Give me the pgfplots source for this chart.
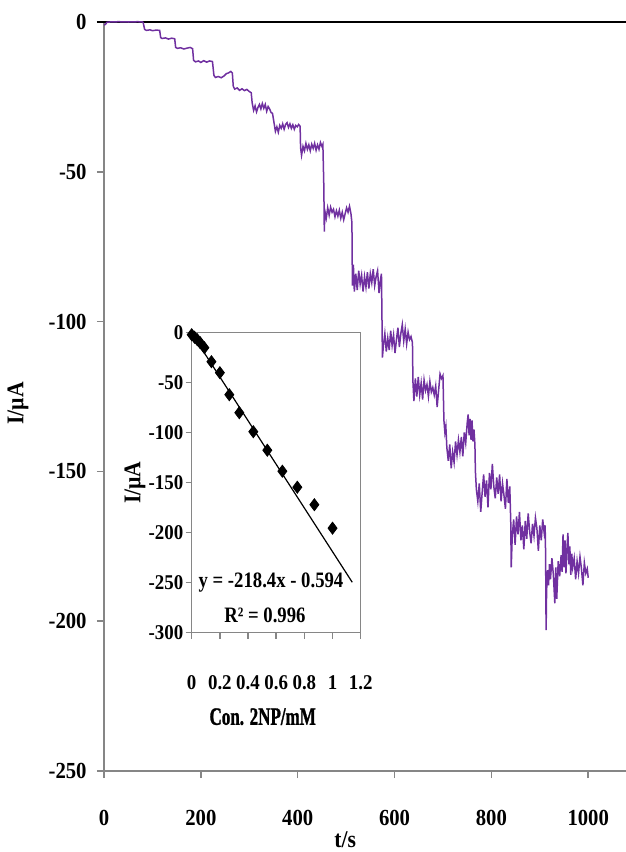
\documentclass[border=0pt]{standalone}
\usepackage{fontspec}
\setmainfont{Liberation Serif}[FakeStretch=0.9]
\newfontfamily\eqfont{Liberation Serif Bold}[FakeStretch=0.85]
\newfontfamily\conlabel{Liberation Serif Bold}[FakeStretch=0.68, FakeBold=1.2]
\usepackage{pgfplots}
\usepackage{pgfplotstable}
\pgfplotsset{compat=1.18}

\definecolor{trace}{RGB}{112,48,160}
\definecolor{axisgray}{RGB}{134,134,134}

% amperometric response, t in s, I in microampere
\pgfplotstableread{
t I
0 -1.0
3 -0.8
6 -0.1
12 0
30 0.1
50 0
70 0.1
80 0
81 -0.3
84 -2.5
88 -2.8
95 -2.6
100 -2.9
108 -2.7
115 -2.8
117 -5.2
120 -5.5
127 -5.3
133 -5.7
140 -5.4
146 -5.6
148 -8.5
152 -8.8
158 -8.6
165 -9.0
172 -8.7
178 -8.5
183 -8.9
185 -12.8
189 -13.3
195 -13.0
200 -13.5
206 -12.9
212 -13.4
218 -13.0
224 -13.2
227 -17.8
230 -18.5
236 -18.2
242 -18.6
248 -18.0
253 -17.2
257 -17.0
262 -16.5
265 -17.0
267 -21.5
270 -22.4
275 -22.0
280 -22.8
285 -22.3
290 -22.9
295 -22.5
300 -23.2
304 -23.6
306 -27.0
309 -29.5
312 -28.0
315 -30.0
318 -28.5
321 -27.5
324 -29.0
327 -27.2
330 -28.8
333 -27.5
336 -29.8
339 -28.2
342 -29.0
345 -30.2
348 -30.5
351 -33.5
354 -36.5
357 -35.0
360 -36.8
363 -34.5
366 -35.5
369 -34.0
372 -35.8
375 -34.2
378 -33.6
381 -35.2
384 -34.0
387 -35.5
390 -34.3
393 -35.8
396 -34.5
399 -35.0
402 -34.2
405 -34.8
406 -42.0
408 -44.5
411 -41.5
414 -43.0
417 -40.5
420 -42.5
423 -41.0
426 -43.0
429 -40.8
432 -42.2
435 -40.5
438 -42.8
441 -41.0
444 -42.5
447 -40.2
450 -41.5
452 -40.8
454 -55.0
455 -70.0
456 -63.0
459 -65.5
462 -62.0
465 -64.5
468 -61.8
471 -63.5
474 -62.5
477 -65.0
480 -63.0
483 -64.8
486 -62.8
489 -65.5
492 -63.5
495 -66.0
498 -64.0
501 -62.0
504 -63.5
507 -61.5
510 -64.0
512 -67.0
513 -88.0
515 -81.0
517 -90.0
520 -84.0
523 -89.5
526 -83.0
529 -87.5
532 -84.5
535 -90.0
538 -85.0
541 -88.5
544 -83.5
547 -89.0
550 -84.0
553 -87.0
556 -82.5
559 -88.0
562 -85.0
565 -83.0
568 -90.5
571 -86.0
573 -84.0
574 -98.0
575 -112.0
577 -108.0
580 -104.0
583 -110.0
586 -105.5
589 -109.5
592 -103.0
595 -108.0
598 -104.5
601 -110.5
604 -106.0
607 -102.0
610 -108.5
613 -104.0
616 -101.0
619 -106.5
622 -102.5
625 -107.5
628 -103.5
631 -106.0
634 -105.0
637 -107.0
638 -120.0
640 -126.5
643 -119.0
646 -125.0
649 -118.5
652 -124.5
655 -120.5
658 -126.0
661 -119.5
664 -123.0
667 -121.0
670 -125.0
673 -120.0
676 -123.5
679 -122.0
682 -124.5
685 -121.5
688 -128.5
691 -123.0
694 -117.5
697 -119.0
700 -118.0
702 -133.0
704 -137.0
706 -135.0
708 -142.0
711 -146.5
714 -141.0
717 -149.0
720 -143.5
723 -147.0
726 -140.0
729 -144.5
732 -139.5
735 -143.5
738 -138.5
741 -145.0
744 -137.0
747 -140.5
750 -134.0
752 -131.0
754 -138.0
756 -132.5
758 -139.5
760 -133.0
762 -140.0
764 -136.0
766 -141.0
767 -150.0
769 -156.0
772 -160.0
775 -154.0
778 -163.5
781 -157.0
784 -151.0
787 -158.5
790 -153.0
793 -162.0
796 -150.5
799 -156.0
802 -147.5
805 -155.0
808 -159.0
811 -152.0
814 -157.5
817 -151.0
820 -160.0
823 -154.0
826 -158.0
829 -162.5
832 -152.5
835 -160.5
838 -155.0
840 -167.0
841 -182.0
843 -172.0
846 -166.0
849 -174.5
852 -165.0
855 -171.0
858 -163.5
861 -173.0
864 -168.0
867 -176.0
870 -166.5
873 -172.5
876 -164.0
879 -170.0
882 -174.0
885 -167.5
888 -171.5
891 -165.5
894 -169.0
897 -176.5
900 -168.0
903 -173.0
906 -166.0
909 -170.5
911 -168.0
912 -178.0
913 -203.0
914 -190.0
916 -183.0
918 -188.0
920 -181.0
922 -186.0
925 -179.0
928 -184.5
931 -194.0
933 -182.0
935 -192.5
938 -180.0
941 -185.0
944 -178.0
946 -183.5
948 -171.0
950 -182.0
952 -173.0
954 -184.0
956 -176.0
958 -170.5
960 -181.0
962 -175.0
964 -184.5
966 -177.5
968 -182.0
971 -179.0
974 -186.0
977 -180.0
980 -184.0
983 -178.5
986 -182.5
989 -188.0
992 -180.5
995 -184.0
998 -182.5
1000 -185.5
}\response

% calibration points, concentration in mM
\pgfplotstableread{
c I
0 -2
0.02 -4.5
0.04 -7
0.06 -10
0.09 -15
0.14 -29
0.20 -40
0.267 -62
0.338 -80
0.4375 -99
0.537 -117.5
0.644 -138.5
0.75 -154.5
0.871 -172
1.0 -195.5
}\calib

\begin{document}
\begin{tikzpicture}
\begin{axis}[
  name=main,
  at={(0,0)}, anchor=south west,
  scale only axis,
  width=261pt, height=374.5pt,
  xmin=0, xmax=1078, ymin=-250, ymax=0,
  axis x line*=bottom, axis y line*=left,
  axis line style={axisgray, line width=0.75pt},
  tick style={axisgray, line width=0.75pt},
  tick align=outside, major tick length=3.5pt,
  xtick={0,200,400,600,800,1000},
  xticklabels={0,200,400,600,800,1000},
  ytick={-250,-200,-150,-100,-50,0},
  yticklabels={-250,-200,-150,-100,-50,0},
  tick label style={font=\bfseries\fontsize{11.5}{13}\selectfont, text=black},
  xticklabel style={anchor=center, yshift=-20pt},
  yticklabel style={anchor=east, inner sep=0pt, xshift=-5pt},
  xlabel={t/s},
  ylabel={I/µA},
  label style={font=\bfseries\fontsize{12}{14}\selectfont},
  xlabel style={at={(axis description cs:0.462,0)}, anchor=center, yshift=-34.5pt},
  ylabel style={at={(axis description cs:0,0.491)}, anchor=center, yshift=43pt},
  clip=false,
]
\draw[black, line width=0.75pt] ([xshift=-3.5pt]axis cs:0,0) -- (axis cs:1078,0);
\addplot[trace, line width=0.75pt, mark=none] table[x=t, y=I] {\response};
\end{axis}

\begin{axis}[
  at={(43.85pt,69.15pt)}, anchor=south west,
  scale only axis,
  width=84.5pt, height=150pt,
  xmin=0, xmax=1.2, ymin=-300, ymax=0,
  axis background/.style={fill=white},
  axis line style={axisgray, line width=0.75pt},
  tick style={axisgray, line width=0.75pt},
  tick align=outside, major tick length=3pt,
  xtick pos=bottom, ytick pos=left,
  xtick={0,0.2,0.4,0.6,0.8,1,1.2},
  xticklabels={0,0.2,0.4,0.6,0.8,1,1.2},
  ytick={-300,-250,-200,-150,-100,-50,0},
  yticklabels={-300,-250,-200,-150,-100,-50,0},
  tick label style={font=\bfseries\fontsize{10.5}{12}\selectfont, text=black},
  xticklabel style={anchor=center, yshift=-22pt},
  yticklabel style={anchor=east, inner sep=0pt, xshift=-1pt},
  xlabel={Con. 2NP/mM},
  ylabel={I/µA},
  label style={font=\bfseries\fontsize{12}{14}\selectfont},
  xlabel style={font=\conlabel\fontsize{12.5}{14}\selectfont, at={(axis description cs:0.42,0)}, anchor=center, yshift=-42pt},
  ylabel style={at={(axis description cs:0,0.5)}, anchor=center, yshift=28.4pt},
  clip=false,
]
\addplot[black, line width=0.6pt, mark=none] coordinates {(0,-0.594) (1.14,-249.57)};
\addplot[only marks, mark=diamond*, mark size=3pt, mark options={fill=black, draw=black}] table[x=c, y=I] {\calib};
\node[font=\eqfont\fontsize{11}{13}\selectfont] at (axis cs:0.563,-250.3) {y = -218.4x - 0.594};
\node[font=\eqfont\fontsize{11}{13}\selectfont] at (axis cs:0.52,-282.3) {R² = 0.996};
\end{axis}

\pgfresetboundingbox
\path[use as bounding box] (-52pt,-40.5pt) rectangle (261pt,385.5pt);
\end{tikzpicture}
\end{document}
